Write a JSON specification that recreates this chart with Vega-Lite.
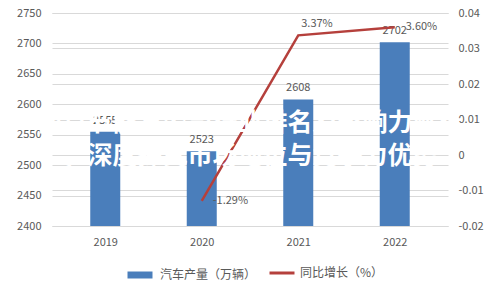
{
  "$schema": "https://vega.github.io/schema/vega-lite/v6.json",
  "width": 396,
  "height": 213,
  "autosize": {"type": "none"},
  "padding": {"left": 52, "top": 13, "right": 51, "bottom": 58},
  "config": {
    "font": "Noto Sans CJK SC",
    "view": {"stroke": null},
    "locale": {"number": {"decimal": ".", "thousands": ",", "grouping": [3], "currency": ["", ""], "minus": "-"}},
    "axis": {"labelColor": "#595959", "labelFontSize": 11, "tickSize": 0, "domain": false, "title": null, "gridColor": "#d9d9d9"}
  },
  "title": {
    "text": ["南京节能泵公司行业排名及影响力解析", "，深度探究市场地位与竞争力优势"],
    "orient": "bottom",
    "anchor": "middle",
    "frame": "group",
    "offset": -178,
    "baseline": "top",
    "fontSize": 25,
    "fontWeight": "bold",
    "color": "white",
    "lineHeight": 33
  },
  "data": {
    "values": [
      {"year": 2019, "output": 2555, "rate": null},
      {"year": 2020, "output": 2523, "rate": -0.0129},
      {"year": 2021, "output": 2608, "rate": 0.0337},
      {"year": 2022, "output": 2702, "rate": 0.036}
    ]
  },
  "encoding": {
    "x": {
      "field": "year",
      "type": "quantitative",
      "scale": {"domain": [2018.5, 2022.5], "nice": false, "zero": false},
      "axis": {"values": [2019, 2020, 2021, 2022], "format": "d", "grid": false, "labelPadding": 10, "labelFlush": false}
    }
  },
  "layer": [
    {
      "encoding": {
        "y": {
          "field": "output",
          "type": "quantitative",
          "scale": {"domain": [2400, 2750], "nice": false, "zero": false},
          "axis": {"orient": "left", "values": [2400, 2450, 2500, 2550, 2600, 2650, 2700, 2750], "format": "d", "grid": true, "labelPadding": 11}
        }
      },
      "layer": [
        {
          "mark": {"type": "bar", "width": 30},
          "encoding": {
            "y2": {"datum": 2400},
            "fill": {
              "datum": "汽车产量（万辆）",
              "type": "nominal",
              "scale": {"range": ["#4a7ebb"]},
              "legend": {
                "orient": "none",
                "legendX": 72,
                "legendY": 246,
                "title": null,
                "labelFontSize": 12,
                "labelColor": "#595959",
                "symbolSize": 625,
                "symbolType": "stroke",
                "symbolStrokeColor": "#4a7ebb",
                "symbolStrokeWidth": 7,
                "labelOffset": 4
              }
            }
          }
        },
        {
          "mark": {"type": "text", "dy": -11, "fontSize": 11, "color": "#595959"},
          "encoding": {"text": {"field": "output", "type": "quantitative", "format": "d"}}
        }
      ]
    },
    {
      "encoding": {
        "y": {
          "field": "rate",
          "type": "quantitative",
          "scale": {"domain": [-0.02, 0.04], "nice": false, "zero": false},
          "axis": {"orient": "right", "values": [-0.02, -0.01, 0, 0.01, 0.02, 0.03, 0.04], "format": "~g", "grid": true, "labelPadding": 10}
        }
      },
      "layer": [
        {
          "transform": [{"filter": "datum.rate != null"}],
          "mark": {"type": "line", "strokeWidth": 2.5},
          "encoding": {
            "stroke": {
              "datum": "同比增长（%）",
              "type": "nominal",
              "scale": {"range": ["#b5403c"]},
              "legend": {
                "orient": "none",
                "legendX": 216,
                "legendY": 246,
                "title": null,
                "labelFontSize": 12,
                "labelColor": "#595959",
                "symbolSize": 625,
                "symbolType": "stroke",
                "symbolStrokeWidth": 3,
                "labelOffset": 4
              }
            }
          }
        },
        {
          "transform": [{"filter": "datum.rate != null && datum.year != 2021"}],
          "mark": {"type": "text", "align": "left", "dx": 11, "dy": 0, "fontSize": 11, "color": "#595959"},
          "encoding": {"text": {"field": "rate", "type": "quantitative", "format": ".2%"}}
        },
        {
          "transform": [{"filter": "datum.year == 2021"}],
          "mark": {"type": "text", "align": "left", "dx": 3, "dy": -11, "fontSize": 11, "color": "#595959"},
          "encoding": {"text": {"field": "rate", "type": "quantitative", "format": ".2%"}}
        },
        {
          "transform": [{"filter": "datum.year == 2019"}],
          "mark": {"type": "bar", "fill": "#9a7fcf", "fillOpacity": 0.6},
          "encoding": {
            "x": {"datum": 2017.9, "type": "quantitative"},
            "x2": {"datum": 2023.1},
            "y": {"datum": 0.0163, "type": "quantitative"},
            "y2": {"datum": -0.0087}
          }
        }
      ]
    }
  ],
  "resolve": {"scale": {"y": "independent"}}
}
